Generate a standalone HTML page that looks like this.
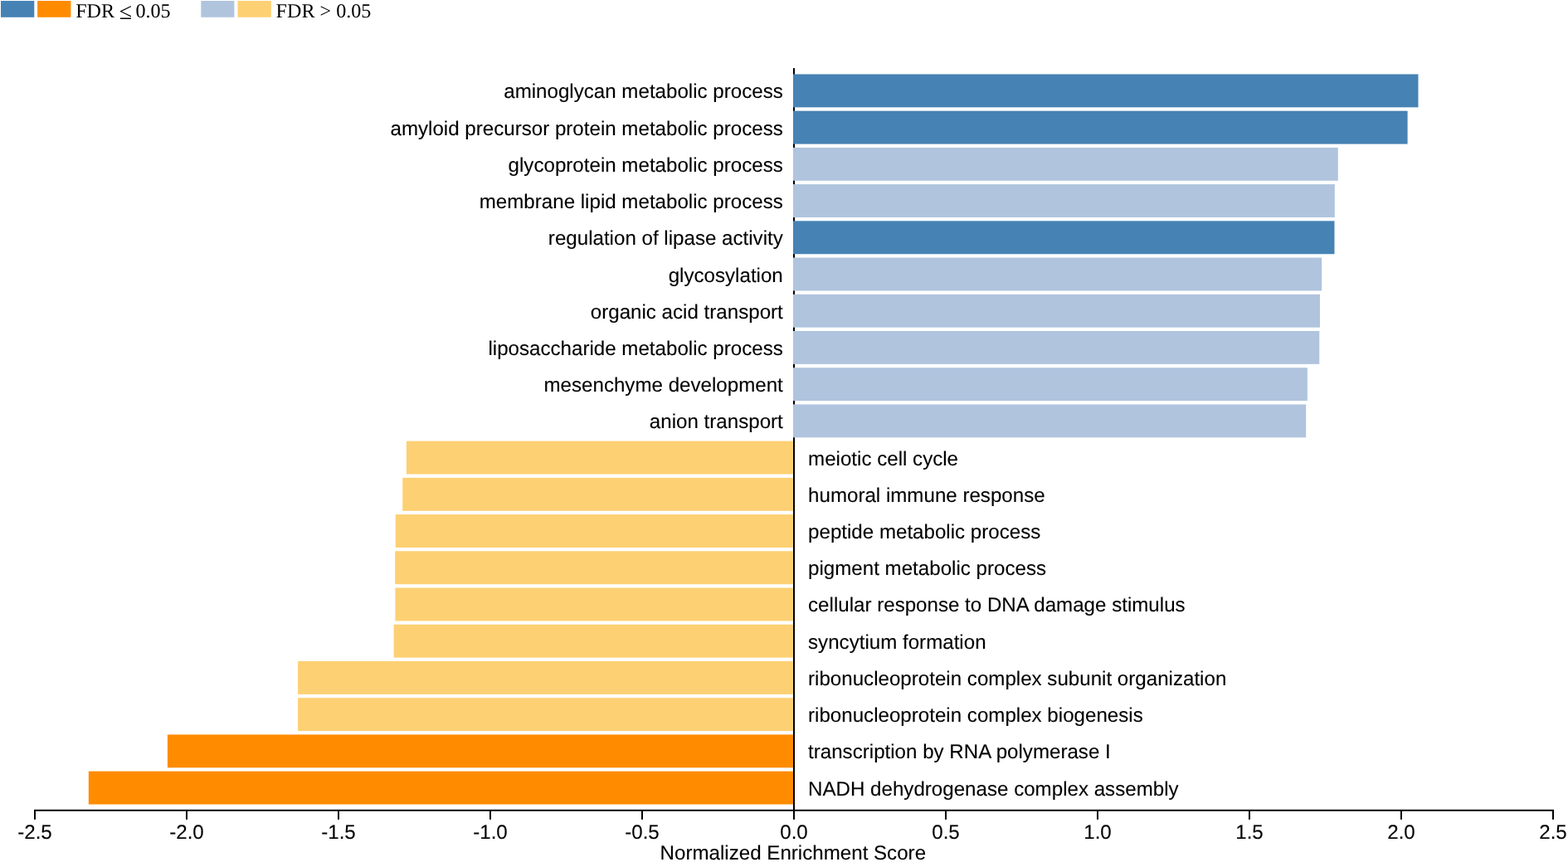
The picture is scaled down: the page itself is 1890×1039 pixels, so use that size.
<!DOCTYPE html>
<html lang="en">
<head>
<meta charset="utf-8">
<title>Normalized Enrichment Score bar chart</title>
<style>
html,body{margin:0;padding:0;background:#fff;}
body{width:1890px;height:1039px;overflow:hidden;}
svg{display:block;}
.lab{font-family:"Liberation Sans",Arial,Helvetica,sans-serif;font-size:24.13px;fill:#000;stroke:#000;stroke-width:0.1px;}
.leg{font-family:"Liberation Serif","Times New Roman",Times,serif;font-size:24.13px;fill:#000;}
text{text-rendering:geometricPrecision;}
.le{font-size:28px;stroke-width:0;}
.ax{fill:#000;}
</style>
</head>
<body>
<svg width="1890" height="1039" viewBox="0 0 1890 1039">
<rect x="0" y="0" width="1890" height="1039" fill="#ffffff"/>
<g class="legend">
<rect x="1" y="1" width="40.3" height="19.8" fill="#4682b4"/>
<rect x="45.1" y="1" width="40.3" height="19.8" fill="#ff8c00"/>
<text class="leg" x="91.2" y="20.7">FDR <tspan class="le" x="143.8" y="23">≤</tspan><tspan x="157.4" y="20.7"> 0.05</tspan></text>
<rect x="242.3" y="1" width="40.1" height="19.8" fill="#b0c4de"/>
<rect x="286.5" y="1" width="40.3" height="19.8" fill="#fdd073"/>
<text class="leg" x="332.6" y="20.7">FDR &gt; 0.05</text>
</g>
<rect class="ax" x="956" y="82.1" width="2" height="905.7"/>
<g class="bars">
<rect x="956" y="89.45" width="753.5" height="39.9" fill="#4682b4"/>
<rect x="956" y="133.67" width="740.6" height="39.9" fill="#4682b4"/>
<rect x="956" y="177.89" width="656.8" height="39.9" fill="#b0c4de"/>
<rect x="956" y="222.11" width="652.8" height="39.9" fill="#b0c4de"/>
<rect x="956" y="266.33" width="652.5" height="39.9" fill="#4682b4"/>
<rect x="956" y="310.55" width="637.2" height="39.9" fill="#b0c4de"/>
<rect x="956" y="354.77" width="635" height="39.9" fill="#b0c4de"/>
<rect x="956" y="398.99" width="634.3" height="39.9" fill="#b0c4de"/>
<rect x="956" y="443.21" width="619.9" height="39.9" fill="#b0c4de"/>
<rect x="956" y="487.43" width="618.2" height="39.9" fill="#b0c4de"/>
<rect x="489.9" y="531.65" width="466.1" height="39.9" fill="#fdd073"/>
<rect x="485.2" y="575.87" width="470.8" height="39.9" fill="#fdd073"/>
<rect x="476.75" y="620.09" width="479.25" height="39.9" fill="#fdd073"/>
<rect x="476.2" y="664.31" width="479.8" height="39.9" fill="#fdd073"/>
<rect x="476.4" y="708.53" width="479.6" height="39.9" fill="#fdd073"/>
<rect x="474.6" y="752.75" width="481.4" height="39.9" fill="#fdd073"/>
<rect x="359.1" y="796.97" width="596.9" height="39.9" fill="#fdd073"/>
<rect x="359.1" y="841.19" width="596.9" height="39.9" fill="#fdd073"/>
<rect x="201.9" y="885.41" width="754.1" height="39.9" fill="#ff8c00"/>
<rect x="106.8" y="929.63" width="849.2" height="39.9" fill="#ff8c00"/>
</g>
<g class="labels">
<text class="lab" x="943.8" y="118.4" text-anchor="end">aminoglycan metabolic process</text>
<text class="lab" x="943.8" y="162.62" text-anchor="end">amyloid precursor protein metabolic process</text>
<text class="lab" x="943.8" y="206.84" text-anchor="end">glycoprotein metabolic process</text>
<text class="lab" x="943.8" y="251.06" text-anchor="end">membrane lipid metabolic process</text>
<text class="lab" x="943.8" y="295.28" text-anchor="end">regulation of lipase activity</text>
<text class="lab" x="943.8" y="339.5" text-anchor="end">glycosylation</text>
<text class="lab" x="943.8" y="383.72" text-anchor="end">organic acid transport</text>
<text class="lab" x="943.8" y="427.94" text-anchor="end">liposaccharide metabolic process</text>
<text class="lab" x="943.8" y="472.16" text-anchor="end">mesenchyme development</text>
<text class="lab" x="943.8" y="516.38" text-anchor="end">anion transport</text>
<text class="lab" x="974.05" y="560.6" text-anchor="start">meiotic cell cycle</text>
<text class="lab" x="974.05" y="604.82" text-anchor="start">humoral immune response</text>
<text class="lab" x="974.05" y="649.04" text-anchor="start">peptide metabolic process</text>
<text class="lab" x="974.05" y="693.26" text-anchor="start">pigment metabolic process</text>
<text class="lab" x="974.05" y="737.48" text-anchor="start">cellular response to DNA damage stimulus</text>
<text class="lab" x="974.05" y="781.7" text-anchor="start">syncytium formation</text>
<text class="lab" x="974.05" y="825.92" text-anchor="start">ribonucleoprotein complex subunit organization</text>
<text class="lab" x="974.05" y="870.14" text-anchor="start">ribonucleoprotein complex biogenesis</text>
<text class="lab" x="974.05" y="914.36" text-anchor="start">transcription by RNA polymerase I</text>
<text class="lab" x="974.05" y="958.58" text-anchor="start">NADH dehydrogenase complex assembly</text>
</g>
<g class="xaxis">
<rect class="ax" x="41" y="975.8" width="1832" height="1.9"/>
<rect class="ax" x="41" y="976.8" width="2" height="11"/>
<text class="lab" x="42" y="1010.95" text-anchor="middle">-2.5</text>
<rect class="ax" x="224" y="976.8" width="2" height="11"/>
<text class="lab" x="225" y="1010.95" text-anchor="middle">-2.0</text>
<rect class="ax" x="407" y="976.8" width="2" height="11"/>
<text class="lab" x="408" y="1010.95" text-anchor="middle">-1.5</text>
<rect class="ax" x="590" y="976.8" width="2" height="11"/>
<text class="lab" x="591" y="1010.95" text-anchor="middle">-1.0</text>
<rect class="ax" x="773" y="976.8" width="2" height="11"/>
<text class="lab" x="774" y="1010.95" text-anchor="middle">-0.5</text>
<text class="lab" x="957" y="1010.95" text-anchor="middle">0.0</text>
<rect class="ax" x="1139" y="976.8" width="2" height="11"/>
<text class="lab" x="1140" y="1010.95" text-anchor="middle">0.5</text>
<rect class="ax" x="1322" y="976.8" width="2" height="11"/>
<text class="lab" x="1323" y="1010.95" text-anchor="middle">1.0</text>
<rect class="ax" x="1505" y="976.8" width="2" height="11"/>
<text class="lab" x="1506" y="1010.95" text-anchor="middle">1.5</text>
<rect class="ax" x="1688" y="976.8" width="2" height="11"/>
<text class="lab" x="1689" y="1010.95" text-anchor="middle">2.0</text>
<rect class="ax" x="1871" y="976.8" width="2" height="11"/>
<text class="lab" x="1872" y="1010.95" text-anchor="middle">2.5</text>
<text class="lab" x="955.85" y="1036.1" text-anchor="middle">Normalized Enrichment Score</text>
</g>
</svg>
</body>
</html>
